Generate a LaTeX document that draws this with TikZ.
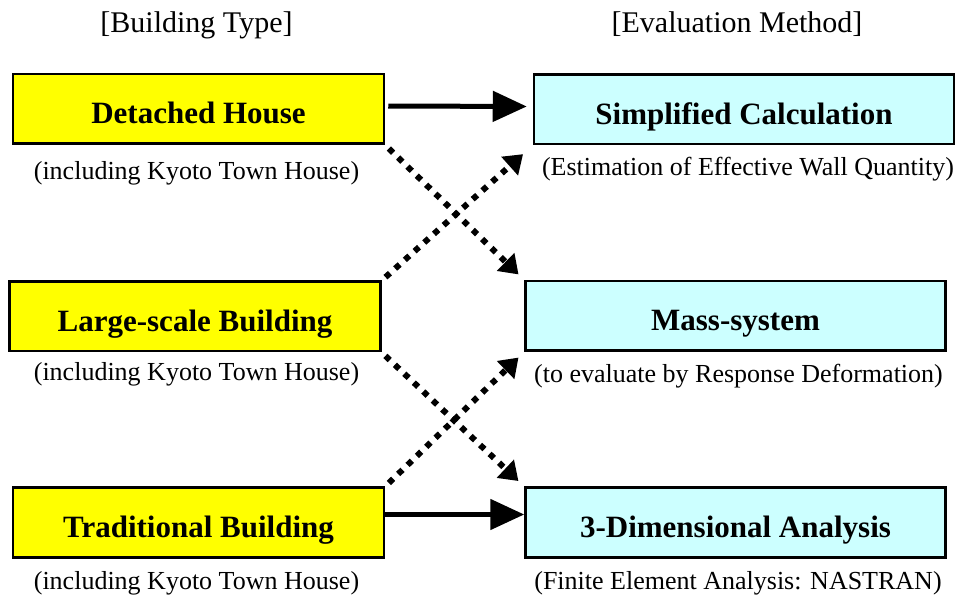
\documentclass[tikz,border=0pt]{standalone}
\usepackage{fontspec}
\setmainfont{Liberation Serif}
\usetikzlibrary{arrows.meta}

\definecolor{typeyellow}{HTML}{FFFF00}
\definecolor{methodcyan}{HTML}{CCFFFF}

\begin{document}
\begin{tikzpicture}[x=1pt,y=-1pt,
  box/.style={draw, line width=2.5pt, minimum height=69.5pt, inner sep=0pt,
    text height=30pt, text depth=0pt, font=\fontsize{31}{36}\selectfont\bfseries},
  typebox/.style={box, fill=typeyellow, minimum width=371pt},
  methodbox/.style={box, fill=methodcyan, minimum width=420pt},
  note/.style={anchor=base, inner sep=0pt, font=\fontsize{26}{30}\selectfont},
  heading/.style={anchor=base, inner sep=0pt, font=\fontsize{30}{34}\selectfont},
  solidarrow/.style={line width=5pt, -{Triangle[length=34pt,width=30pt]}},
  dotarrow/.style={line width=6pt, dash pattern=on 6pt off 7pt,
    shorten <=5pt, shorten >=8pt, -{Triangle[length=18pt,width=24pt]}}]

% Page size
\useasboundingbox (0,0) rectangle (959,601);

% Column headings
\node[heading] (type-head) at (196.5,33) {[Building Type]};
\node[heading] (method-head) at (737,33) {[Evaluation Method]};

% Building types (left column)
\node[typebox] (det) at (198.5,109) {Detached House};
\node[typebox] (large) at (195,316.5) {Large-scale Building};
\node[typebox] (trad) at (198.5,522.5) {Traditional Building};

% Evaluation methods (right column)
\node[methodbox] (simp) at (744,109.5) {Simplified Calculation};
\node[methodbox] (mass) at (735.5,316) {Mass-system};
\node[methodbox] (fem) at (735.5,522.5) {3-Dimensional Analysis};

% Notes below the boxes
\node[note] (det-sub) at (196.5,180) {(including Kyoto Town House)};
\node[note] (large-sub) at (196.5,381) {(including Kyoto Town House)};
\node[note] (trad-sub) at (196.5,589) {(including Kyoto Town House)};
\node[note] (simp-sub) at (748,176) {(Estimation of Effective Wall Quantity)};
\node[note] (mass-sub) at (738.5,383) {(to evaluate by Response Deformation)};
\node[note] (fem-sub) at (738,589) {(Finite Element Analysis: NASTRAN)};

% Direct links
\draw[solidarrow, shorten <=3pt, shorten >=6pt] ([yshift=3pt]det.east) -- ([yshift=3pt]simp.west);
\draw[solidarrow] ([yshift=8pt]trad.east) -- ([yshift=8pt]fem.west);

% Crossing links
\draw[dotarrow] (det.south east) -- (mass.north west);
\draw[dotarrow, shorten >=13pt] (large.north east) -- (simp.south west);
\draw[dotarrow] (large.south east) -- (fem.north west);
\draw[dotarrow] (trad.north east) -- (mass.south west);

\end{tikzpicture}
\end{document}
